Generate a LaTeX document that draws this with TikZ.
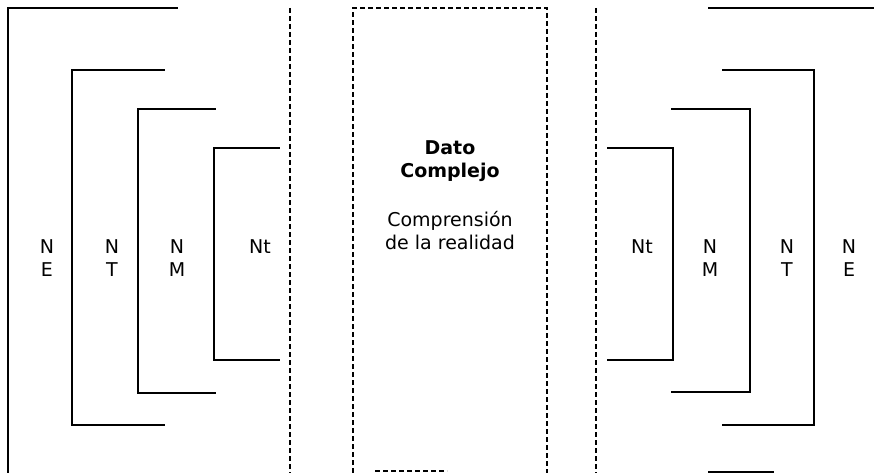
\documentclass[tikz,border=0pt]{standalone}
\usepackage{fontspec}
\setmainfont{DejaVu Sans}
\begin{document}
\begin{tikzpicture}[x=1pt,y=-1pt,
  bracket/.style={line width=1.5pt, line cap=rect},
  dashline/.style={line width=1.3pt, dash pattern=on 5pt off 3pt},
  lbl/.style={font=\fontsize{19}{23}\selectfont, align=center, inner sep=0pt, anchor=base},
]
\useasboundingbox (0,0) rectangle (874,473);

% ---- left brackets ----
\draw[bracket] (177,8) -- (8,8) -- (8,473);
\draw[bracket] (164,70) -- (72,70) -- (72,425) -- (164,425);
\draw[bracket] (215,109) -- (138,109) -- (138,393) -- (215,393);
\draw[bracket] (279,148) -- (214,148) -- (214,360) -- (279,360);

% ---- dashed dividers and central box ----
\draw[dashline] (290,8) -- (290,473);
\draw[dashline] (353,473) -- (353,8) -- (547,8) -- (547,473);
\draw[dashline] (375,471) -- (447,471);
\draw[dashline] (596,8) -- (596,473);

% ---- right brackets ----
\draw[bracket] (709,8) -- (874,8);
\draw[bracket] (709,472) -- (773,472);
\draw[bracket] (723,70) -- (814,70) -- (814,425) -- (723,425);
\draw[bracket] (672,109) -- (750,109) -- (750,392) -- (672,392);
\draw[bracket] (608,148) -- (673,148) -- (673,360) -- (608,360);

% ---- labels left (base anchor = last line baseline) ----
\node[lbl] (lNE) at (47,276) {N\\E};
\node[lbl] (lNT) at (112,276) {N\\T};
\node[lbl] (lNM) at (177,276) {N\\M};
\node[lbl] (lNt) at (260,253) {Nt};

% ---- central text ----
\node[lbl, font=\fontsize{19}{23}\selectfont\bfseries] (dato) at (450,177) {Dato\\Complejo};
\node[lbl] (comp) at (450,249) {Comprensión\\de la realidad};

% ---- labels right ----
\node[lbl] (rNt) at (642,253) {Nt};
\node[lbl] (rNM) at (710,276) {N\\M};
\node[lbl] (rNT) at (787,276) {N\\T};
\node[lbl] (rNE) at (849,276) {N\\E};
\end{tikzpicture}
\end{document}
